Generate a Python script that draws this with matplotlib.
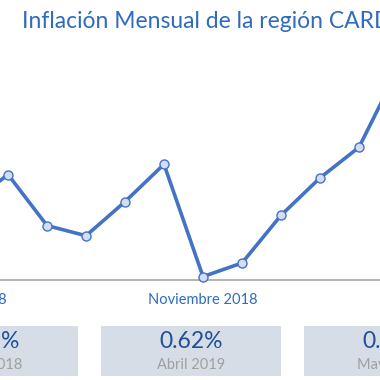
import matplotlib
matplotlib.use("Agg")
import matplotlib.pyplot as plt
from matplotlib.patches import Rectangle

# Monthly inflation (%), May 2018 .. Apr 2019
months = ["Mayo 2018", "Junio 2018", "Julio 2018", "Agosto 2018", "Septiembre 2018",
          "Octubre 2018", "Noviembre 2018", "Diciembre 2018", "Enero 2019",
          "Febrero 2019", "Marzo 2019", "Abril 2019"]
inflation = [0.22, 0.31, 0.16, 0.13, 0.23, 0.34, 0.01, 0.05, 0.19, 0.30, 0.39, 0.62]

# x tick labels every six months
tick_pos = [0, 6, 12]
tick_labels = ["Mayo 2018", "Noviembre 2018", "Mayo 2019"]

# summary boxes
box_values = ["0.52%", "0.62%", "0.45%"]
box_labels = ["Abril 2018", "Abril 2019", "Mayo 2019"]

title = "Inflación Mensual de la región CARD"

W = H = 380
fig = plt.figure(figsize=(3.8, 3.8), dpi=100)
fig.patch.set_facecolor("white")
font = "Lato"

def fx(px):
    return px / W

def fy(py):
    return (H - py) / H

# Line chart axes (visible window of a wider chart)
ax_top, ax_bot = 40, 280
ax = fig.add_axes([0, fy(ax_bot), 1, (ax_bot - ax_top) / H])
step = 39
x0 = -31
ax.set_xlim((0 - x0) / step, (W - x0) / step)
ax.set_ylim(0, (ax_bot - ax_top) * 0.62 / 211)
ax.plot(range(len(inflation)), inflation, color="#4472c4", lw=2.6,
        marker="o", markersize=6.5, markerfacecolor="#d3def3",
        markeredgecolor="#4472c4", markeredgewidth=1.0, clip_on=False, zorder=3)
for s in ["top", "left", "right"]:
    ax.spines[s].set_visible(False)
ax.spines["bottom"].set_color("#a6a6a6")
ax.spines["bottom"].set_linewidth(1.2)
ax.set_xticks([])
ax.set_yticks([])
for p, lab in zip(tick_pos, tick_labels):
    ax.annotate(lab, xy=(p, 0), xycoords=("data", "axes fraction"),
                xytext=(0, -20), textcoords="offset pixels",
                ha="center", va="center", fontsize=10.5, color="#2f6bbf",
                family=font, annotation_clip=False)

# Title
fig.text(fx(22), fy(21), title, ha="left", va="center", fontsize=16.5,
         color="#2f6bbf", family=font)

# Summary boxes
box_w, box_h = 180, 50
box_top = 326
for i, (v, lab) in enumerate(zip(box_values, box_labels)):
    cx = -12 + 203 * i
    fig.patches.append(Rectangle((fx(cx - box_w / 2), fy(box_top + box_h)),
                                 box_w / W, box_h / H, transform=fig.transFigure,
                                 facecolor="#d6dde6", edgecolor="none"))
    fig.text(fx(cx), fy(341), v, ha="center", va="center", fontsize=16.5,
             color="#1f4e9a", family=font)
    fig.text(fx(cx), fy(365), lab, ha="center", va="center", fontsize=10.5,
             color="#a0a0a0", family=font)

fig.savefig("out.png", dpi=100)
